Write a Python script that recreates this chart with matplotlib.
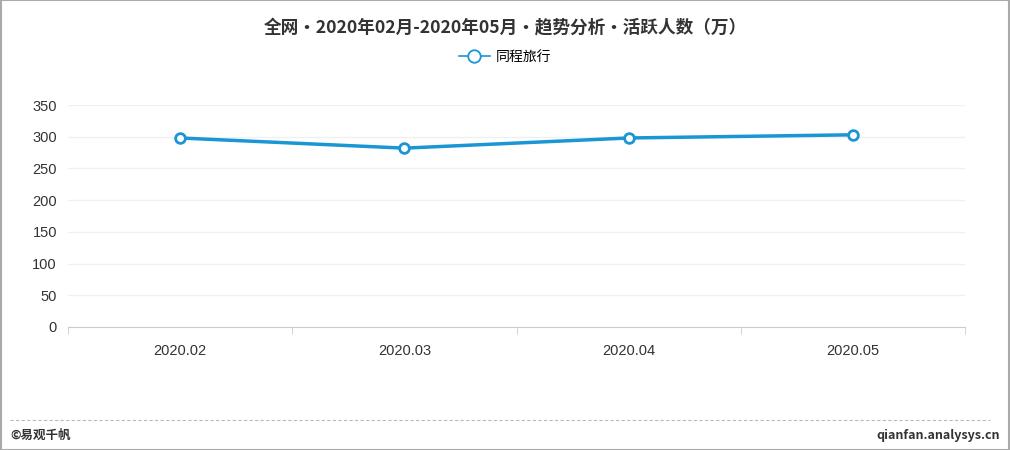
import matplotlib.pyplot as plt
from matplotlib.lines import Line2D
from matplotlib.patches import Rectangle

plt.rcParams['font.family'] = ['Noto Sans CJK SC', 'DejaVu Sans']

# 数据
months = ['2020.02', '2020.03', '2020.04', '2020.05']
active_users = [298, 282, 298, 303]
series_name = '同程旅行'
title = '全网•2020年02月-2020年05月•趋势分析•活跃人数（万）'

line_color = '#1a96d4'

fig = plt.figure(figsize=(10.1, 4.5), dpi=100)
ax = fig.add_axes([68 / 1010, 1 - 327 / 450, (965 - 68) / 1010, (327 - 105) / 450])

x = range(len(months))
ax.plot(x, active_users, color=line_color, linewidth=2.5, marker='o', markersize=7,
        markerfacecolor='white', markeredgecolor=line_color, markeredgewidth=2, zorder=3)

ax.set_xlim(-0.5, len(months) - 0.5)
ax.set_ylim(0, 350)
ax.set_yticks(range(0, 351, 50))
ax.set_xticks(list(x))
ax.set_xticklabels(months)
ax.set_xticks([i - 0.5 for i in range(len(months) + 1)], minor=True)
for lbl in ax.get_xticklabels() + ax.get_yticklabels():
    lbl.set_family(['Liberation Sans', 'DejaVu Sans'])

ax.grid(axis='y', color='#f0f0f0', linewidth=1)
ax.set_axisbelow(True)
for side in ['top', 'right', 'left']:
    ax.spines[side].set_visible(False)
ax.spines['bottom'].set_color('#cccccc')
ax.tick_params(axis='y', length=0, labelsize=10.5, colors='#333333', pad=8)
ax.tick_params(axis='x', which='major', length=0, labelsize=10.5, colors='#333333', pad=12)
ax.tick_params(axis='x', which='minor', length=5, color='#cccccc')

# 标题和图例
fig.text(0.5, 1 - 27 / 450, title, ha='center', va='center', fontsize=12.7,
         fontweight='bold', color='#333333')
handle = Line2D([], [], color=line_color, linewidth=1.2, marker='o', markersize=9,
                markerfacecolor='white', markeredgecolor=line_color, markeredgewidth=1.3)
fig.legend([handle], [series_name], loc='center', bbox_to_anchor=(0.5, 1 - 57 / 450),
           frameon=False, fontsize=10, handlelength=2.2, handletextpad=0.4)

# 底部
fig.add_artist(Line2D([10 / 1010, 990 / 1010], [1 - 420 / 450] * 2, color='#bbbbbb',
                      linewidth=0.8, linestyle=(0, (3, 2))))
fig.text(10 / 1010, 1 - 435 / 450, '©易观千帆', ha='left', va='center', fontsize=9,
         fontweight='bold', color='#333333')
fig.text(1000 / 1010, 1 - 435 / 450, 'qianfan.analysys.cn', ha='right', va='center',
         fontsize=9, fontweight='bold', color='#333333')
fig.add_artist(Rectangle((0.0005, 0.001), 0.999, 0.998, transform=fig.transFigure,
                         fill=False, edgecolor='#aaaaaa', linewidth=1.5))

fig.savefig('out.png', dpi=100)
